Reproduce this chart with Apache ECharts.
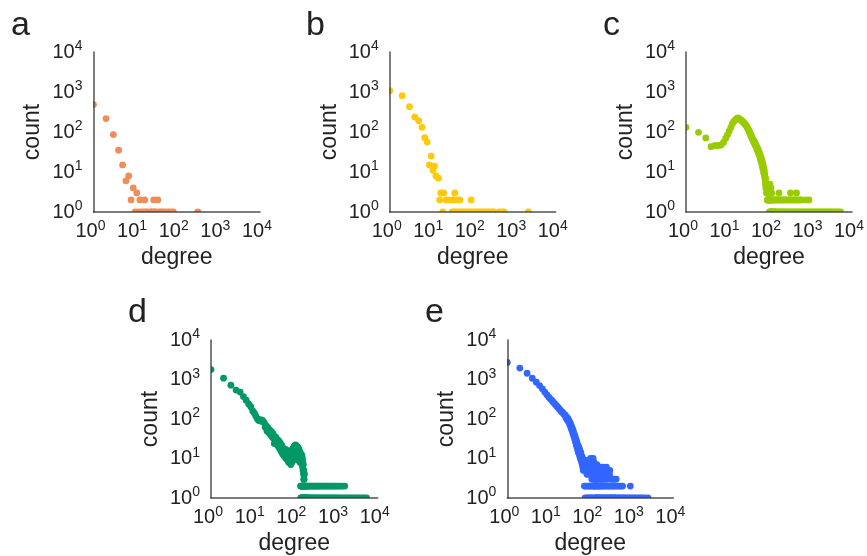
<!DOCTYPE html>
<html>
<head>
<meta charset="utf-8">
<script src="https://cdn.jsdelivr.net/npm/echarts@6/dist/echarts.min.js"></script>
<style>
  html, body { margin: 0; padding: 0; background: #ffffff; }
  #chart { width: 867px; height: 556px; }
</style>
</head>
<body>
<div id="chart"></div>
<script>
// Degree distributions (degree -> number of nodes) for five networks, log-log.

const tickValues = [1, 10, 100, 1000, 10000];
const tickExponents = ['0', '1', '2', '3', '4'];
const panelLetters = ['a', 'b', 'c', 'd', 'e'];
const panelColors = ['#EE8C5A', '#FFC905', '#99CC00', '#009966', '#3366FF'];
const xAxisTitle = 'degree';
const yAxisTitle = 'count';

// Panel a
const aDegree = [1, 2, 3, 4, 5, 6, 7, 8, 9, 11, 13, 17, 28, 35,
  10, 12, 14, 16, 18, 20, 23, 25, 27, 30, 32, 38, 43, 48, 55, 63, 72, 83, 320];
const aCount = [484, 216, 86, 35, 15, 6, 8, 2, 4, 3, 2, 2, 2, 2,
  1, 1, 1, 1, 1, 1, 1, 1, 1, 1, 1, 1, 1, 1, 1, 1, 1, 1, 1];

// Panel b
const bDegree = [1, 2, 3, 4, 5, 6, 7, 8, 9, 10, 11, 12, 13, 15,
  17, 20, 37,
  16, 23, 26, 33, 36, 43, 49, 92,
  19, 32, 35, 39, 44, 48, 54, 60, 67, 75, 84, 94, 110, 122, 137, 152, 170, 190, 215, 240,
  270, 300, 325, 440, 500, 570, 2190];
const bCount = [1080, 810, 430, 237, 192, 131, 72, 56, 15, 25, 11, 14, 8, 7,
  3, 3, 3,
  2, 2, 2, 2, 2, 2, 2, 2,
  1, 1, 1, 1, 1, 1, 1, 1, 1, 1, 1, 1, 1, 1, 1, 1, 1, 1, 1, 1,
  1, 1, 1, 1, 1, 1, 1];

// Panel c
const cDegree = [1, 2, 3, 4, 5, 6, 7, 8, 9, 10, 11, 12, 13, 14, 15, 16, 17, 18, 19, 20,
  21, 22, 23, 24, 25, 26, 27, 28, 29, 30, 31, 32, 33, 34, 35, 36, 37, 38, 39, 40,
  41, 42, 43, 44, 45, 46, 47, 48, 49, 50, 51, 52, 53, 54, 55, 56, 57, 58, 59, 60,
  61, 62, 63, 64, 65, 66, 67, 68, 69, 70, 71, 72, 73, 74, 75, 76, 77, 78, 79, 80,
  81, 82, 83, 84, 85, 86, 87, 88, 89, 90, 92, 94, 96, 98, 100, 103, 105, 108, 112, 116,
  174, 330, 460,
  91, 93, 95, 97, 99, 101, 104, 107, 110, 114, 118, 121, 126, 133, 141, 150, 160, 171,
  183, 196, 211, 229, 248, 270, 294, 321, 352, 386, 423, 466, 512, 560, 610, 760, 920,
  102, 106, 109, 113, 117, 120, 124, 130, 137, 145, 155, 166, 178, 190, 205, 220, 238,
  258, 280, 305, 335, 365, 400, 440, 485, 530, 585, 640, 705, 775, 850, 935, 1030, 1130,
  1240, 1370, 1500, 1650, 1810, 2000, 2200, 2420, 2660, 2930, 3220, 3550, 3900, 4300,
  4750, 5300];
const cCount = [131, 98, 71, 43, 46, 46, 47, 55, 69, 85, 105, 130, 158, 180, 196, 208, 218, 224, 216, 207,
  200, 192, 184, 176, 168, 160, 152, 146, 137, 130, 121, 116, 107, 100, 93, 82, 85, 75, 72, 67,
  64, 58, 61, 53, 56, 48, 51, 44, 47, 40, 42, 36, 39, 33, 31, 35, 28, 31, 26, 28,
  23, 21, 25, 19, 22, 17, 20, 15, 18, 13, 16, 12, 14, 10, 12, 9, 11, 8, 9, 7,
  6, 5, 7, 4, 5, 4, 3, 5, 3, 4, 3, 4, 3, 3, 4, 3, 5, 3, 4, 3,
  3, 3, 3,
  2, 2, 2, 2, 2, 2, 2, 2, 2, 2, 2, 2, 2, 2, 2, 2, 2, 2,
  2, 2, 2, 2, 2, 2, 2, 2, 2, 2, 2, 2, 2, 2, 2, 2, 2,
  1, 1, 1, 1, 1, 1, 1, 1, 1, 1, 1, 1, 1, 1, 1, 1, 1,
  1, 1, 1, 1, 1, 1, 1, 1, 1, 1, 1, 1, 1, 1, 1, 1, 1,
  1, 1, 1, 1, 1, 1, 1, 1, 1, 1, 1, 1, 1, 1,
  1, 1];

// Panel d
const dDegree = [1, 2, 3, 4, 5, 6, 7, 8, 9, 10, 11, 12, 13, 14, 15, 16, 17, 18, 19, 20,
  21, 22, 23, 24, 25, 26, 27, 28, 29, 30, 31, 32, 33, 34, 35, 36, 37, 38, 39, 40,
  41, 42, 43, 44, 45, 46, 47, 48, 49, 50, 51, 52, 53, 54, 55, 56, 57, 58, 59, 60,
  61, 62, 63, 64, 65, 66, 67, 68, 69, 70, 71, 72, 73, 74, 75, 76, 77, 78, 79, 80,
  81, 82, 83, 84, 85, 86, 87, 88, 89, 90, 91, 92, 93, 94, 95, 96, 97, 98, 99, 100,
  101, 102, 103, 104, 105, 106, 107, 108, 109, 110, 111, 112, 113, 114, 115, 116, 117, 118, 119, 120,
  121, 122, 123, 124, 125, 126, 127, 128, 129, 130, 131, 132, 133, 134, 135, 136, 137, 138, 139, 140,
  142, 144, 146, 148, 150, 152, 154, 156, 158, 160, 162, 164, 166, 168, 170, 172, 175,
  141, 145, 149, 153, 157, 161, 165, 169, 174, 178, 183, 190, 198, 207, 218, 230, 243,
  258, 275, 293, 312, 334, 358, 384, 412, 444, 478, 515, 556, 600, 650, 705, 765, 830,
  900, 980, 1070, 1170, 1290, 1420, 1620,
  143, 147, 151, 155, 159, 163, 167, 171, 173, 176, 180, 185, 188, 193, 201, 211, 222,
  234, 247, 262, 280, 298, 318, 340, 365, 392, 420, 452, 487, 525, 566, 612, 662, 716,
  775, 840, 912, 990, 1080, 1180, 1300, 1440, 1600, 1780, 1980, 2200, 2450, 2730, 3050,
  3400, 3800, 4300, 4800, 5400];
const dCount = [1780, 1080, 720, 540, 480, 370, 300, 240, 205, 160, 140, 118, 100, 92, 96, 88, 94, 84, 80, 62,
  68, 50, 60, 46, 54, 42, 50, 38, 46, 34, 42, 33, 24, 36, 27, 34, 24, 31, 22, 29,
  21, 28, 19, 26, 18, 24, 16, 22, 15, 21, 14, 19, 13, 18, 12, 17, 12, 16, 11, 15,
  17, 11, 10, 15, 11, 16, 10, 14, 9, 13, 15, 10, 8, 13, 9, 14, 8, 12, 15, 9,
  13, 7, 12, 14, 9, 16, 11, 8, 15, 10, 17, 12, 9, 18, 14, 12, 17, 20, 15, 11,
  19, 16, 21, 13, 18, 22, 15, 12, 20, 17, 14, 21, 19, 11, 16, 20, 13, 18, 10, 17,
  15, 12, 19, 16, 14, 9, 15, 17, 13, 11, 14, 16, 10, 13, 12, 8, 14, 11, 9, 12,
  10, 13, 8, 11, 9, 12, 7, 10, 6, 8, 5, 7, 4, 3, 5, 3, 4,
  2, 2, 2, 2, 2, 2, 2, 2, 2, 2, 2, 2, 2, 2, 2, 2, 2,
  2, 2, 2, 2, 2, 2, 2, 2, 2, 2, 2, 2, 2, 2, 2, 2, 2,
  2, 2, 2, 2, 2, 2, 2,
  1, 1, 1, 1, 1, 1, 1, 1, 1, 1, 1, 1, 1, 1, 1, 1, 1,
  1, 1, 1, 1, 1, 1, 1, 1, 1, 1, 1, 1, 1, 1, 1, 1, 1,
  1, 1, 1, 1, 1, 1, 1, 1, 1, 1, 1, 1, 1, 1, 1, 1, 1, 1, 1,
  1, 1, 1, 1, 1];

// Panel e
const eDegree = [1, 2, 3, 4, 5, 6, 7, 8, 9, 10, 11, 12, 13, 14, 15, 16, 17, 18, 19, 20,
  21, 22, 23, 24, 25, 26, 27, 28, 29, 30, 31, 32, 33, 34, 35, 36, 37, 38, 39, 40,
  41, 42, 43, 44, 45, 46, 47, 48, 49, 50, 51, 52, 53, 54, 55, 56, 57, 58, 59, 60,
  61, 62, 63, 64, 65, 66, 67, 68, 69,
  70, 71, 72, 73, 74, 75, 76, 77, 78, 79, 80, 81, 82, 83, 84, 85, 86, 87, 88, 89,
  90, 91, 92, 93, 94, 95, 96, 97, 98, 99, 100, 101, 102, 103, 104, 105, 106, 107, 108, 109,
  110, 111, 112, 113, 114, 115, 116, 117, 118, 119, 120, 121, 122, 123, 124, 125, 126, 127, 128, 129,
  130, 131, 132, 133, 134, 135, 137, 138, 140, 142, 144, 146, 148, 150, 153, 155, 157, 160, 163, 165,
  168, 170, 173, 176, 179, 182, 186, 188, 192, 195, 200, 202, 205, 210, 213, 215, 220, 226, 230, 235,
  240, 245, 250, 255, 260, 265, 272, 280, 290, 295, 305, 320, 335, 345, 365, 380, 400, 420, 440, 490,
  540, 600, 920,
  136, 139, 143, 152, 159, 167, 175, 185, 197, 208, 223, 238, 252, 268, 285, 300, 315, 330, 355, 372,
  390, 410, 450, 480, 520, 560, 610, 660, 720, 790, 870, 960, 1060, 1170, 1300, 1450, 1620, 1800, 2050, 2450];
const eCount = [2700, 1950, 1440, 1075, 855, 700, 580, 480, 410, 355, 320, 290, 262, 240, 222, 205, 190, 178, 166, 155,
  150, 142, 133, 126, 125, 106, 112, 95, 102, 84, 90, 72, 78, 61, 67, 52, 58, 43, 50, 37,
  42, 31, 37, 26, 31, 22, 27, 19, 23, 16, 21, 14, 19, 13, 17, 11, 15, 10, 14, 9,
  12, 8, 11, 7, 10, 6, 9, 5, 8,
  9, 7, 2, 6, 9, 1, 5, 8, 2, 7, 5, 8, 1, 4, 7, 2, 6, 9, 4, 1,
  5, 7, 2, 5, 6, 1, 8, 5, 2, 6, 4, 10, 1, 9, 7, 4, 2, 6, 5, 3,
  1, 9, 6, 8, 9, 2, 5, 10, 1, 7, 4, 3, 6, 8, 5, 2, 3, 4, 6, 5,
  2, 7, 4, 1, 3, 2, 6, 5, 3, 4, 7, 3, 2, 5, 6, 4, 2, 3, 5, 4,
  2, 5, 6, 3, 2, 4, 5, 3, 2, 5, 4, 3, 6, 4, 2, 5, 3, 2, 4, 5,
  3, 6, 4, 2, 5, 3, 2, 5, 4, 5, 2, 3, 2, 3, 2, 3, 2, 3, 2, 2,
  2, 2, 2,
  1, 1, 1, 1, 1, 1, 1, 1, 1, 1, 1, 1, 1, 1, 1, 1, 1, 1, 1, 1,
  1, 1, 1, 1, 1, 1, 1, 1, 1, 1, 1, 1, 1, 1, 1, 1, 1, 1, 1, 1];

const panelDegrees = [aDegree, bDegree, cDegree, dDegree, eDegree];
const panelCounts = [aCount, bCount, cCount, dCount, eCount];

// Layout of the five plotting areas (pixels) and the panel letters.
const gridBoxes = [
  { left: 93.5, top: 52, width: 166.5, height: 160 },
  { left: 389.7, top: 52, width: 166, height: 160 },
  { left: 686, top: 52, width: 166, height: 160 },
  { left: 211, top: 340, width: 166.7, height: 160 },
  { left: 507.3, top: 340, width: 166, height: 160 }
];
const letterPositions = [[11, 9], [306, 9], [603, 9], [128, 296], [425, 296]];

const FONT = 'Liberation Sans';
const TEXT = '#222222';
const DOT_RADIUS = 3.4;

function tickLabel(v) {
  const i = tickValues.indexOf(Math.round(v));
  return i < 0 ? '' : '{b|10}{s|' + tickExponents[i] + '}';
}
const tickRich = {
  b: { fontSize: 20, lineHeight: 25, color: TEXT, fontFamily: FONT },
  s: { fontSize: 14, lineHeight: 16, color: TEXT, fontFamily: FONT, verticalAlign: 'top' }
};
const spine = { show: true, onZero: false, lineStyle: { color: '#333333', width: 1.5, opacity: 0.85 } };

const grids = [], xAxes = [], yAxes = [], series = [], titles = [];
gridBoxes.forEach(function (box, i) {
  grids.push(Object.assign({ containLabel: false }, box));
  xAxes.push({
    gridIndex: i, type: 'log', logBase: 10, min: 1, max: 10000, splitNumber: 4, z: 10,
    axisLine: spine, axisTick: { show: false }, splitLine: { show: false },
    axisLabel: { formatter: tickLabel, rich: tickRich, margin: 7, padding: [0, 6, 0, 0] },
    name: xAxisTitle, nameLocation: 'middle', nameGap: 34,
    nameTextStyle: { fontSize: 23, color: TEXT, fontFamily: FONT }
  });
  yAxes.push({
    gridIndex: i, type: 'log', logBase: 10, min: 1, max: 10000, splitNumber: 4, z: 10,
    axisLine: spine, axisTick: { show: false }, splitLine: { show: false },
    axisLabel: { formatter: tickLabel, rich: tickRich, margin: 11 },
    name: yAxisTitle, nameLocation: 'middle', nameGap: 49, nameRotate: 90,
    nameTextStyle: { fontSize: 23, color: TEXT, fontFamily: FONT }
  });
  const deg = panelDegrees[i], cnt = panelCounts[i];
  const color = panelColors[i];
  series.push({
    type: 'custom', xAxisIndex: i, yAxisIndex: i, clip: true, z: 2,
    encode: { x: 0, y: 1 },
    data: deg.map(function (d, k) { return [d, cnt[k]]; }),
    renderItem: function (params, api) {
      const p = api.coord([api.value(0), api.value(1)]);
      return { type: 'circle', shape: { cx: p[0], cy: p[1], r: DOT_RADIUS }, style: { fill: color } };
    }
  });
  titles.push({
    text: panelLetters[i], left: letterPositions[i][0], top: letterPositions[i][1], padding: 0,
    textStyle: { fontSize: 34, fontWeight: 'normal', color: TEXT, fontFamily: FONT }
  });
});

const chart = echarts.init(document.getElementById('chart'), null, { renderer: 'canvas' });
chart.setOption({
  animation: false,
  backgroundColor: '#ffffff',
  title: titles,
  grid: grids,
  xAxis: xAxes,
  yAxis: yAxes,
  series: series
});
</script>
</body>
</html>
